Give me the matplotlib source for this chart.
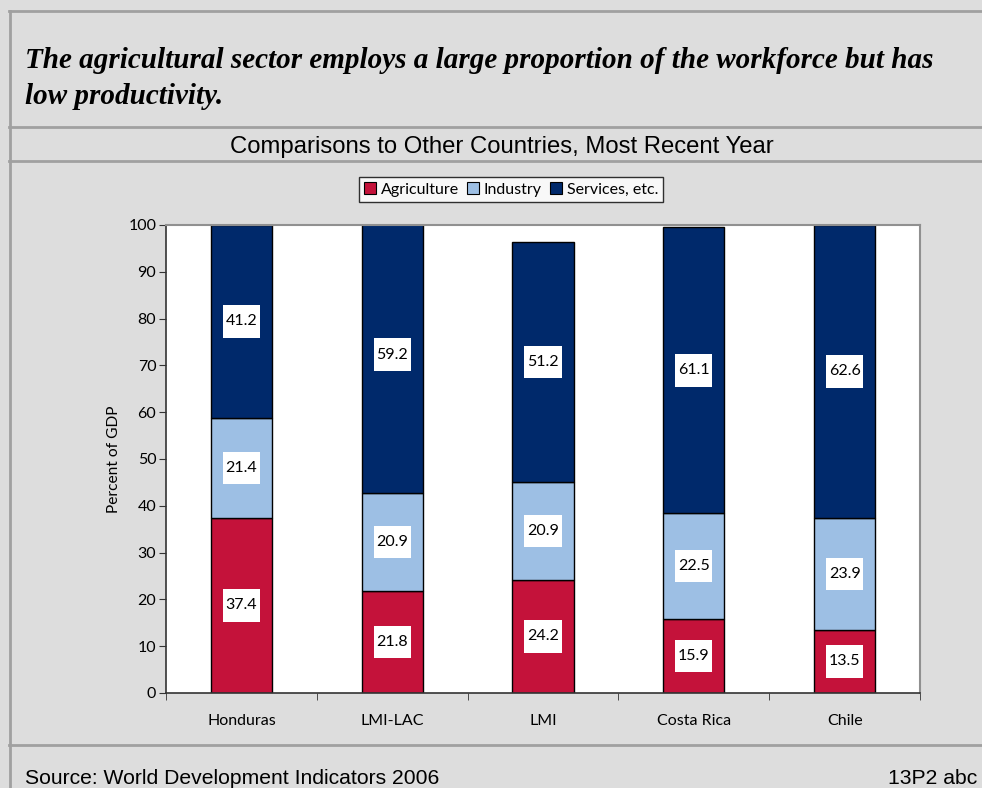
import numpy as np
import matplotlib.pyplot as plt
from matplotlib.lines import Line2D
from matplotlib.patches import Patch

# Sector shares by country group (percent of GDP)
countries = ['Honduras', 'LMI-LAC', 'LMI', 'Costa Rica', 'Chile']
agriculture = [37.4, 21.8, 24.2, 15.9, 13.5]
industry = [21.4, 20.9, 20.9, 22.5, 23.9]
services = [41.2, 59.2, 51.2, 61.1, 62.6]

series_names = ['Agriculture', 'Industry', 'Services, etc.']
colors = ['#C4123A', '#9DBFE4', '#00296B']

W, H = 982, 788
fig = plt.figure(figsize=(W / 100, H / 100), dpi=100)
fig.patch.set_facecolor('#DDDDDD')

# Frame lines around the slide panels
line_col = '#A0A0A0'
def hline(y, x0=9):
    fig.add_artist(Line2D([x0 / W, 1], [1 - y / H, 1 - y / H], color=line_col, lw=2))
hline(11)
hline(127)
hline(161)
hline(745)
fig.add_artist(Line2D([9.5 / W, 9.5 / W], [0, 1 - 11 / H], color=line_col, lw=2))

# Headline and subtitle
head = dict(family='Liberation Serif', weight='bold', style='italic', fontsize=21, va='center')
fig.text(25 / W, 1 - 61 / H, 'The agricultural sector employs a large proportion of the workforce but has', **head)
fig.text(25 / W, 1 - 96 / H, 'low productivity.', **head)
fig.text(502 / W, 1 - 147 / H, 'Comparisons to Other Countries, Most Recent Year',
         family='Liberation Sans', fontsize=17.2, ha='center', va='center')

# Footer
fig.text(25 / W, 1 - 778 / H, 'Source: World Development Indicators 2006',
         family='Liberation Sans', fontsize=15.2, va='center')
fig.text(888 / W, 1 - 778 / H, '13P2 abc',
         family='Liberation Sans', fontsize=15.2, va='center')

ax = fig.add_axes([166 / W, (H - 693) / H, 754 / W, 468 / H])
ax.set_facecolor('white')

fs = 11.5
x = np.arange(len(countries))
bw = 0.405
bottom = np.zeros(len(countries))
for vals, col in zip([agriculture, industry, services], colors):
    vals = np.array(vals)
    ax.bar(x, vals, bw, bottom=bottom, color=col, edgecolor='black', linewidth=1, zorder=2)
    for xi, b, v in zip(x, bottom, vals):
        ax.text(xi, b + v / 2, '{:.1f}'.format(v), ha='center', va='center',
                family='Lato', fontsize=fs, color='black', zorder=3,
                bbox=dict(facecolor='white', edgecolor='none', boxstyle='square,pad=0.17',
                          mutation_aspect=3.4))
    bottom += vals

ax.set_xlim(-0.5, len(countries) - 0.5)
ax.set_ylim(0, 100)
ax.set_yticks(np.arange(0, 101, 10))
ax.set_xticks(x)
ax.set_xticklabels(countries)
ax.set_xticks(np.arange(-0.5, len(countries)), minor=True)
ax.tick_params(axis='x', which='major', length=0, pad=15)
ax.tick_params(axis='x', which='minor', length=5, direction='out', color='#333333')
ax.tick_params(axis='y', length=5, direction='out', color='#333333', pad=2)
for lab in ax.get_xticklabels() + ax.get_yticklabels():
    lab.set_family('Lato')
    lab.set_fontsize(fs)
ax.set_ylabel('Percent of GDP', family='Lato', fontsize=11.2, labelpad=5)

for s in ['left', 'bottom']:
    ax.spines[s].set_color('#333333')
    ax.spines[s].set_linewidth(1.2)
for s in ['top', 'right']:
    ax.spines[s].set_color('#909090')
    ax.spines[s].set_linewidth(1.5)

handles = [Patch(facecolor=c, edgecolor='black', linewidth=0.8) for c in colors]
leg = fig.legend(handles, series_names, loc='center', bbox_to_anchor=(511 / W, 1 - 189.5 / H),
                 ncol=3, frameon=True, fancybox=False, handlelength=0.75, handleheight=0.75,
                 handletextpad=0.3, columnspacing=0.5, borderpad=0.3,
                 prop={'family': 'Lato', 'size': fs})
leg.get_frame().set_edgecolor('black')
leg.get_frame().set_linewidth(1)

fig.savefig('out.png', dpi=100, facecolor=fig.get_facecolor())
